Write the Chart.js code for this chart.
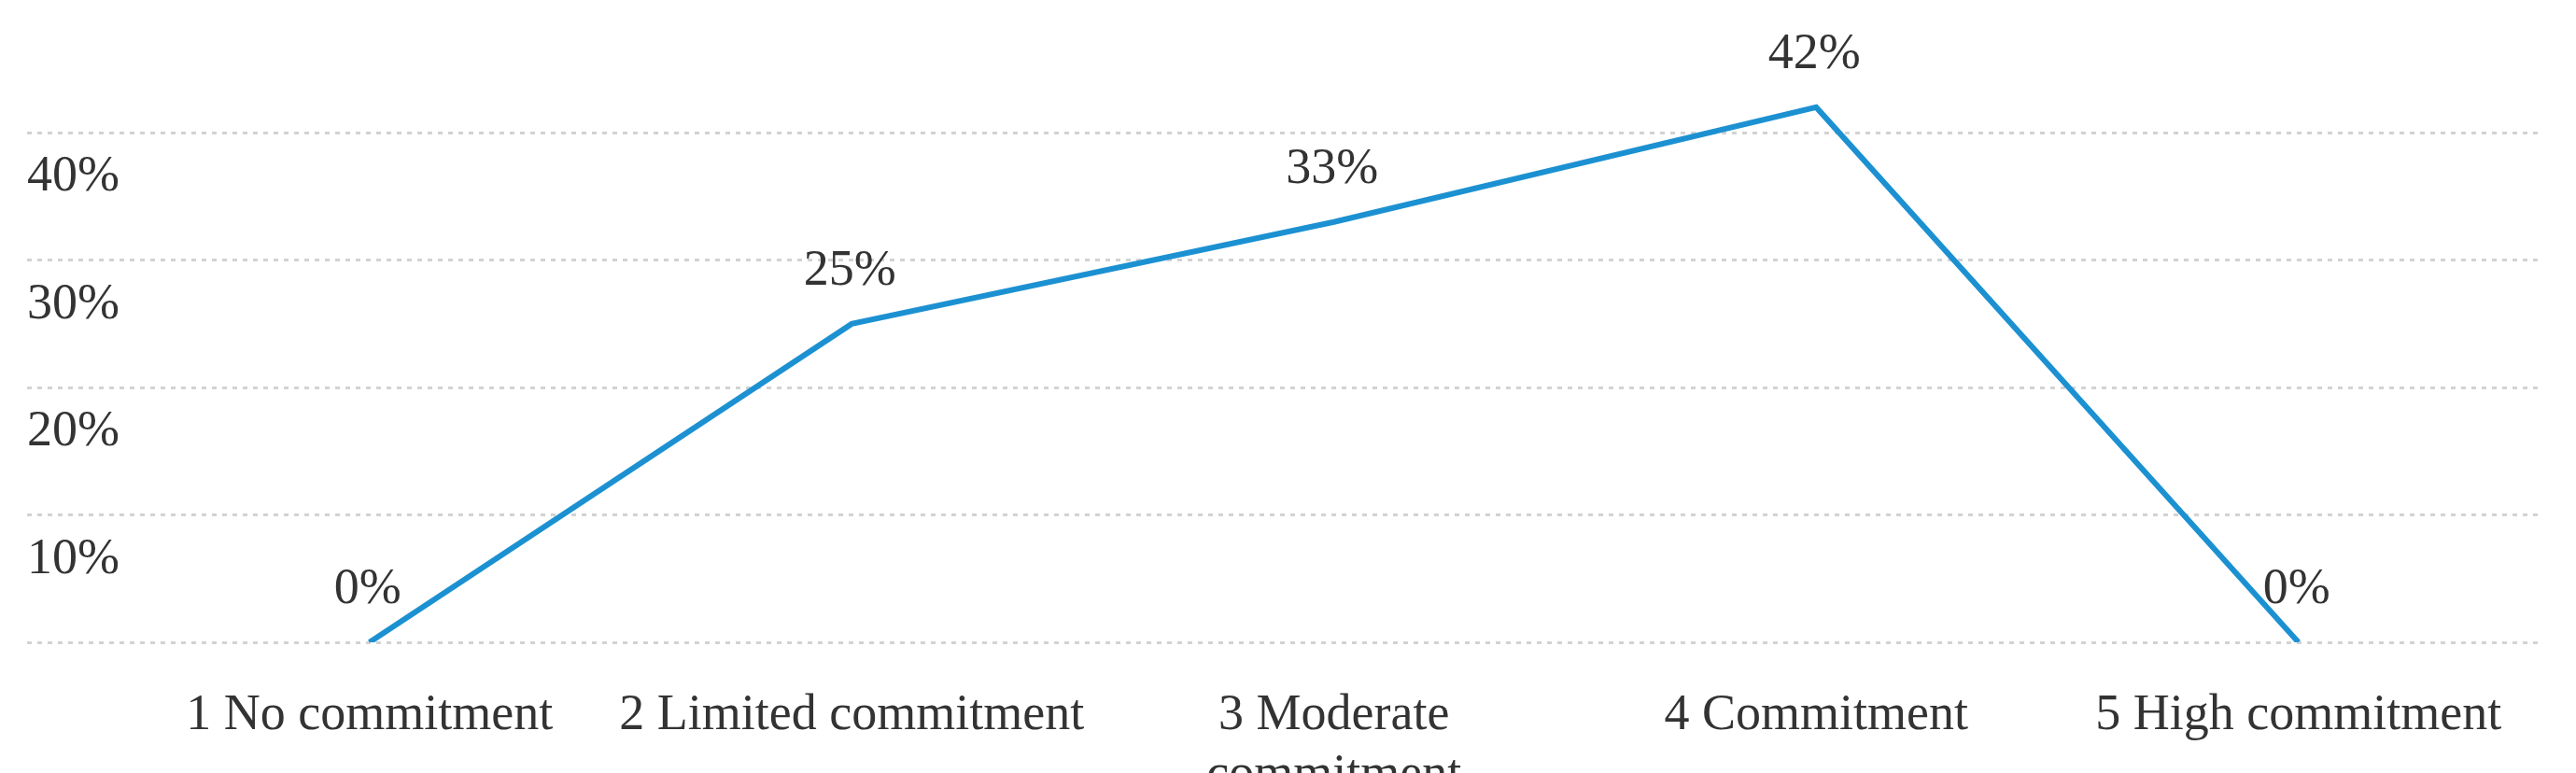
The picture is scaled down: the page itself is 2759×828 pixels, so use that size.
<!DOCTYPE html>
<html>
<head>
<meta charset="utf-8">
<script src="https://cdn.jsdelivr.net/npm/chart.js@4/dist/chart.umd.min.js"></script>
<style>
  html, body { margin: 0; padding: 0; background: #ffffff; overflow: hidden; }
  canvas { display: block; }
</style>
</head>
<body>
<canvas id="c" width="2759" height="828"></canvas>
<script>
// ---- data ----
const categories = [
  '1 No commitment',
  '2 Limited commitment',
  ['3 Moderate', 'commitment'],
  '4 Commitment',
  '5 High commitment'
];
const values = [0, 25, 33, 42, 0];           // percent
const yTickValues = [0, 10, 20, 30, 40];       // gridlines
const yTickLabels = ['', '10%', '20%', '30%', '40%'];

const FONT = "'Liberation Serif', 'Times New Roman', serif";
const TEXT = '#333333';

const points = values.map((v, i) => ({ x: i + 1, y: v }));

const dataLabels = {
  id: 'dataLabels',
  afterDatasetsDraw(chart) {
    const ctx = chart.ctx;
    const meta = chart.getDatasetMeta(0);
    ctx.save();
    ctx.font = '54px ' + FONT;
    ctx.fillStyle = TEXT;
    ctx.textAlign = 'center';
    ctx.textBaseline = 'middle';
    meta.data.forEach((pt, i) => {
      ctx.fillText(values[i] + '%', pt.x - 2, pt.y - 56);
    });
    ctx.restore();
  }
};

new Chart(document.getElementById('c'), {
  type: 'line',
  data: {
    datasets: [{
      data: points,
      borderColor: '#1c91d2',
      borderWidth: 6,
      tension: 0,
      pointRadius: 0,
      pointHoverRadius: 0,
      fill: false
    }]
  },
  options: {
    responsive: false,
    devicePixelRatio: 1,
    animation: false,
    layout: { padding: { left: 29, right: 39, top: 74, bottom: 0 } },
    plugins: {
      legend: { display: false },
      tooltip: { enabled: false },
      title: { display: false }
    },
    scales: {
      x: {
        type: 'linear',
        min: 0.29,
        max: 5.5,
        afterBuildTicks(scale) {
          scale.ticks = categories.map((c, i) => ({ value: i + 1 }));
        },
        afterFit(scale) { scale.height = 140; },
        grid: { display: false, drawTicks: false },
        border: { display: false },
        ticks: {
          autoSkip: false,
          maxRotation: 0,
          minRotation: 0,
          padding: 46,
          color: TEXT,
          font: { family: FONT, size: 54 },
          callback(v) { return categories[v - 1]; }
        }
      },
      y: {
        min: 0,
        max: 45,
        afterBuildTicks(scale) {
          scale.ticks = yTickValues.map(v => ({ value: v }));
        },
        grid: { color: '#d2d2d2', lineWidth: 3, drawTicks: false },
        border: { display: false, dash: [5, 6] },
        ticks: {
          mirror: true,
          padding: 0,
          labelOffset: 48,
          color: TEXT,
          font: { family: FONT, size: 54 },
          callback(v) { return yTickLabels[yTickValues.indexOf(v)]; }
        }
      }
    }
  },
  plugins: [dataLabels]
});
</script>
</body>
</html>
